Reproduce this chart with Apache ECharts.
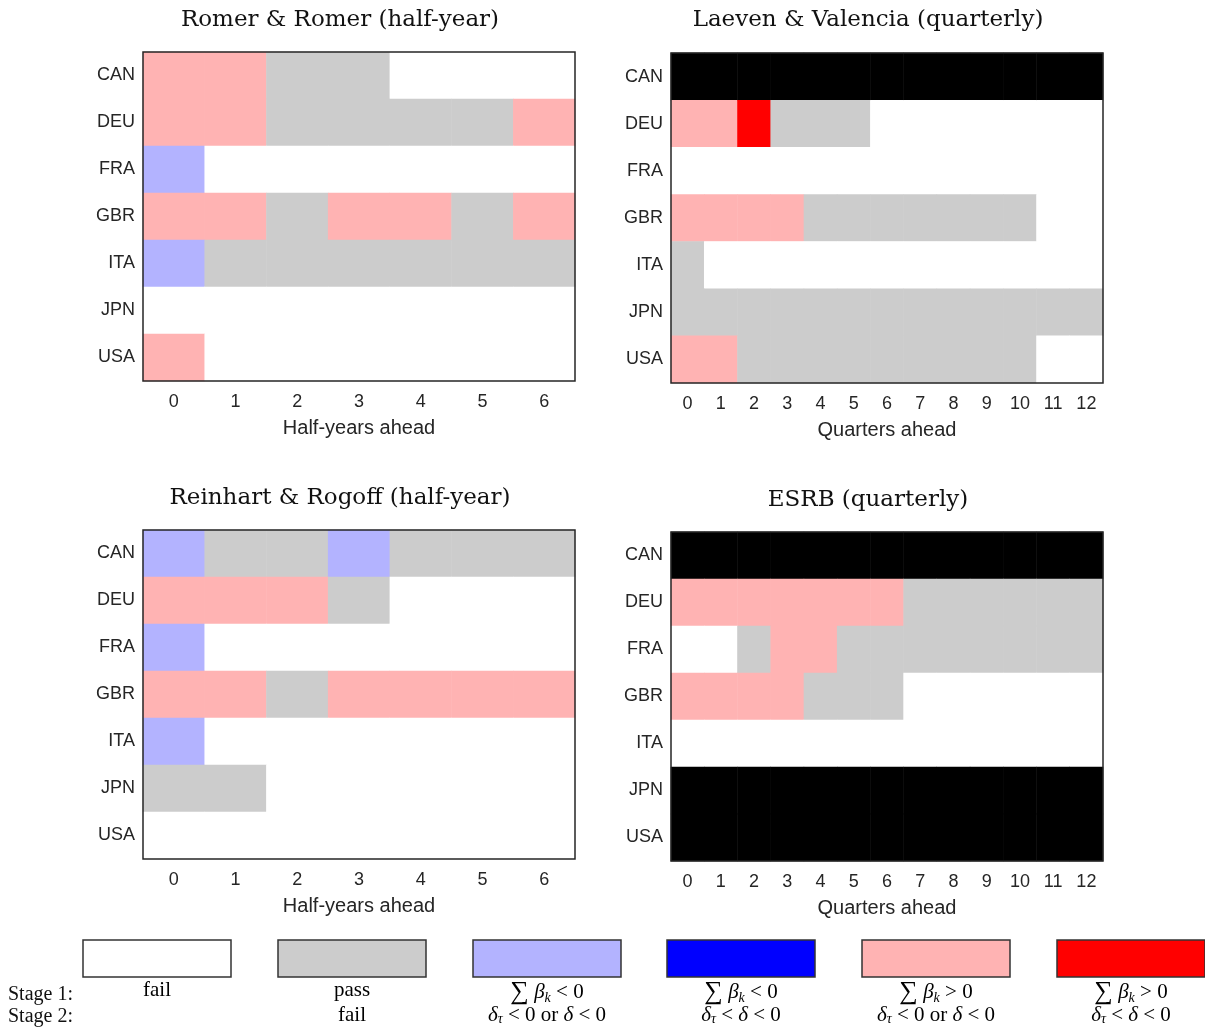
<!DOCTYPE html>
<html><head><meta charset="utf-8">
<script src="https://cdn.jsdelivr.net/npm/echarts@6/dist/echarts.min.js"></script>
<style>html,body{margin:0;padding:0;background:#fff}#c{width:1205px;height:1030px}</style>
</head><body><div id="c"></div>
<script>
const countries = ['CAN','DEU','FRA','GBR','ITA','JPN','USA'];
const halfYears = ['0','1','2','3','4','5','6'];
const quarters = ['0','1','2','3','4','5','6','7','8','9','10','11','12'];
// codes: -1 n/a (black), 0 fail, 1 pass/fail, 2 sum<0 & weak, 3 sum<0 & strong, 4 sum>0 & weak, 5 sum>0 & strong
const romer = [
  [4,4,1,1,0,0,0],
  [4,4,1,1,1,1,4],
  [2,0,0,0,0,0,0],
  [4,4,1,4,4,1,4],
  [2,1,1,1,1,1,1],
  [0,0,0,0,0,0,0],
  [4,0,0,0,0,0,0]
];
const laeven = [
  [-1,-1,-1,-1,-1,-1,-1,-1,-1,-1,-1,-1,-1],
  [4,4,5,1,1,1,0,0,0,0,0,0,0],
  [0,0,0,0,0,0,0,0,0,0,0,0,0],
  [4,4,4,4,1,1,1,1,1,1,1,0,0],
  [1,0,0,0,0,0,0,0,0,0,0,0,0],
  [1,1,1,1,1,1,1,1,1,1,1,1,1],
  [4,4,1,1,1,1,1,1,1,1,1,0,0]
];
const reinhart = [
  [2,1,1,2,1,1,1],
  [4,4,4,1,0,0,0],
  [2,0,0,0,0,0,0],
  [4,4,1,4,4,4,4],
  [2,0,0,0,0,0,0],
  [1,1,0,0,0,0,0],
  [0,0,0,0,0,0,0]
];
const esrb = [
  [-1,-1,-1,-1,-1,-1,-1,-1,-1,-1,-1,-1,-1],
  [4,4,4,4,4,4,4,1,1,1,1,1,1],
  [0,0,1,4,4,1,1,1,1,1,1,1,1],
  [4,4,4,4,1,1,1,0,0,0,0,0,0],
  [0,0,0,0,0,0,0,0,0,0,0,0,0],
  [-1,-1,-1,-1,-1,-1,-1,-1,-1,-1,-1,-1,-1],
  [-1,-1,-1,-1,-1,-1,-1,-1,-1,-1,-1,-1,-1]
];
const titles = ['Romer & Romer (half-year)','Laeven & Valencia (quarterly)','Reinhart & Rogoff (half-year)','ESRB (quarterly)'];
const xNames = ['Half-years ahead','Quarters ahead','Half-years ahead','Quarters ahead'];
const legendColors = ['#ffffff','#cccccc','#b3b3ff','#0000ff','#ffb3b3','#ff0000'];
const stage1 = ['fail','pass','sum<','sum<','sum>','sum>'];
const stage2 = ['','fail','or','lt','or','lt'];

const panels = [romer, laeven, reinhart, esrb];
const cats = [halfYears, quarters, halfYears, quarters];
const grids = [
  {left:143, top:52, width:432, height:329},
  {left:671, top:53, width:432, height:330},
  {left:143, top:530, width:432, height:329},
  {left:671, top:532, width:432, height:329}
];
const titlePos = [[335,4],[863,4],[335,482],[863,484]];
const sans = 'Liberation Sans, Arial, sans-serif';
const serif = 'Liberation Serif, Times New Roman, serif';
const tserif = 'DejaVu Serif, serif';

function toData(m){const d=[];m.forEach((row,i)=>row.forEach((v,j)=>d.push([j,i,v])));return d;}

const option = {
  backgroundColor:'#fff',
  animation:false,
  title: titles.map((t,i)=>({text:t, left:titlePos[i][0], top:titlePos[i][1], textAlign:'center',
    textStyle:{fontFamily:tserif, fontSize:23, fontWeight:'normal', color:'#111'}})),
  grid: grids.map(g=>Object.assign({show:true, borderColor:'#262626', borderWidth:0, backgroundColor:'#fff'}, g)),
  xAxis: cats.map((c,i)=>({type:'category', gridIndex:i, data:c, position:'bottom',
    axisLine:{show:false}, axisTick:{show:false}, splitLine:{show:false},
    axisLabel:{fontFamily:sans, fontSize:18, color:'#262626', margin:12},
    name:xNames[i], nameLocation:'middle', nameGap:37,
    nameTextStyle:{fontFamily:sans, fontSize:20, color:'#262626'}})),
  yAxis: cats.map((c,i)=>({type:'category', gridIndex:i, data:countries, inverse:true,
    axisLine:{show:false}, axisTick:{show:false}, splitLine:{show:false},
    axisLabel:{fontFamily:sans, fontSize:18, color:'#262626', margin:8}})),
  visualMap: {type:'piecewise', show:false, dimension:2, seriesIndex:[0,1,2,3],
    pieces:[{value:-1,color:'#000000'},{value:0,color:'#ffffff'},{value:1,color:'#cccccc'},
      {value:2,color:'#b3b3ff'},{value:3,color:'#0000ff'},{value:4,color:'#ffb3b3'},{value:5,color:'#ff0000'}]},
  series: panels.map((m,i)=>({type:'heatmap', xAxisIndex:i, yAxisIndex:i, data:toData(m),
    itemStyle:{borderWidth:0}, emphasis:{disabled:true}})),
  graphic: []
};

// frame around each plot area (drawn above the cells)
grids.forEach(g=>{
  option.graphic.push({type:'rect', z:100, silent:true,
    shape:{x:g.left, y:g.top, width:g.width, height:g.height},
    style:{fill:null, stroke:'#262626', lineWidth:1.5}});
});

const boxX = [83,278,473,667,862,1057];
const rich = {
  n:{fontFamily:serif, fontSize:21, color:'#111'},
  i:{fontFamily:serif, fontSize:21, fontStyle:'italic', color:'#111'},
  s:{fontFamily:serif, fontSize:14, fontStyle:'italic', color:'#111', verticalAlign:'bottom', padding:[8,0,0,0]},
  b:{fontFamily:serif, fontSize:26, color:'#111'}
};
function line1(k){
  if(k==='fail'||k==='pass') return '{n|'+k+'}';
  const op = k==='sum<' ? '<' : '>';
  return '{b|∑}{n| }{i|β}{s|k}{n| '+op+' 0}';
}
function line2(k){
  if(k==='') return '';
  if(k==='fail') return '{n|fail}';
  if(k==='or') return '{i|δ}{s|τ}{n| < 0 or }{i|δ}{n| < 0}';
  return '{i|δ}{s|τ}{n| < }{i|δ}{n| < 0}';
}
boxX.forEach((x,i)=>{
  option.graphic.push({type:'rect', shape:{x:x, y:940, width:148, height:37},
    style:{fill:legendColors[i], stroke:'#333', lineWidth:1.5}, silent:true});
  const y1 = (stage1[i]==='fail'||stage1[i]==='pass') ? 990 : 992;
  option.graphic.push({type:'text', x:x+74, y:y1, silent:true,
    style:{text:line1(stage1[i]), rich:rich, align:'center', verticalAlign:'middle'}});
  if(stage2[i]) option.graphic.push({type:'text', x:x+74, y:1015, silent:true,
    style:{text:line2(stage2[i]), rich:rich, align:'center', verticalAlign:'middle'}});
});
option.graphic.push({type:'text', x:8, y:995, silent:true, style:{text:'Stage 1:', font:'20px '+serif, fill:'#111', verticalAlign:'middle'}});
option.graphic.push({type:'text', x:8, y:1017, silent:true, style:{text:'Stage 2:', font:'20px '+serif, fill:'#111', verticalAlign:'middle'}});

const chart = echarts.init(document.getElementById('c'), null, {renderer:'canvas'});
chart.setOption(option);
</script></body></html>
